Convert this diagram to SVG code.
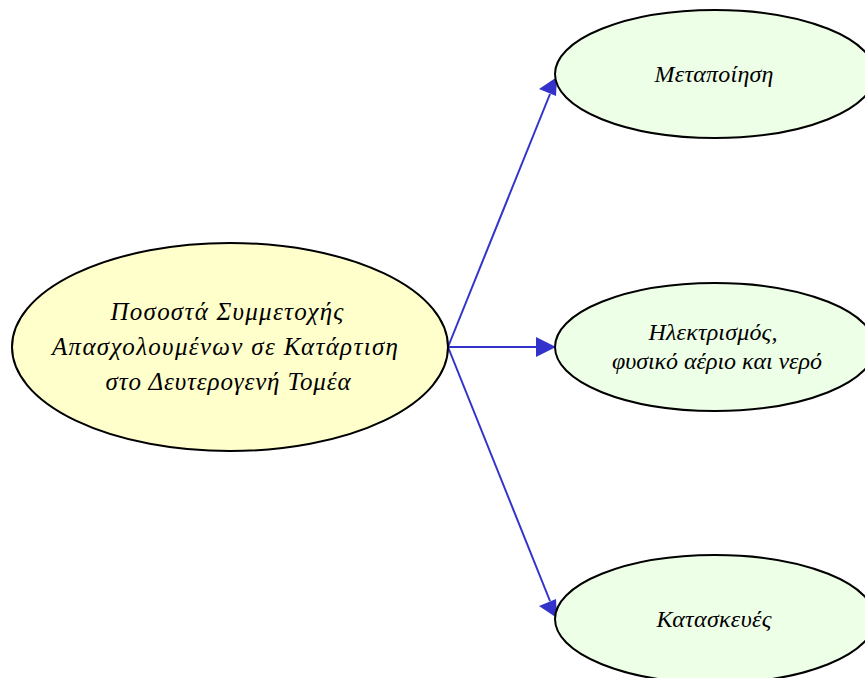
<svg xmlns="http://www.w3.org/2000/svg" width="865" height="678" viewBox="0 0 865 678">
<style>
.n{stroke:#000;stroke-width:2}
.root{fill:#ffffcc}
.leaf{fill:#eeffe8}
.t{font-family:"Liberation Serif","DejaVu Serif",serif;font-style:italic;font-size:24px;fill:#000;text-anchor:middle}
.r{font-size:25px}
.e{stroke:#3333cc;stroke-width:2;fill:none}
</style>
<rect width="865" height="678" fill="#fff"/>
<g id="edges">
<line class="e" x1="448" y1="347" x2="550" y2="94"/>
<polygon points="557,77 539,89 556,96" fill="#3333cc"/>
<line class="e" x1="448" y1="347" x2="538" y2="347"/>
<polygon points="556,347 536,337 536,357" fill="#3333cc"/>
<line class="e" x1="448" y1="347" x2="550" y2="601"/>
<polygon points="557,618 539,606 556,599" fill="#3333cc"/>
</g>
<g id="root">
<ellipse class="n root" cx="230" cy="347" rx="218" ry="104"/>
<text class="t r" x="227" y="320" textLength="233" lengthAdjust="spacing">Ποσοστά Συμμετοχής</text>
<text class="t r" x="225" y="355" textLength="346" lengthAdjust="spacing">Απασχολουμένων σε Κατάρτιση</text>
<text class="t r" x="228" y="390" textLength="245" lengthAdjust="spacing">στο Δευτερογενή Τομέα</text>
</g>
<g id="metapoiisi">
<ellipse class="n leaf" cx="715" cy="74" rx="160" ry="64"/>
<text class="t" x="714" y="82" textLength="119" lengthAdjust="spacing">Μεταποίηση</text>
</g>
<g id="ilektrismos">
<ellipse class="n leaf" cx="715" cy="347" rx="160" ry="64"/>
<text class="t" x="713" y="340" textLength="129" lengthAdjust="spacing">Ηλεκτρισμός,</text>
<text class="t" x="717" y="369" textLength="210" lengthAdjust="spacing">φυσικό αέριο και νερό</text>
</g>
<g id="kataskeves">
<ellipse class="n leaf" cx="715" cy="619" rx="160" ry="64"/>
<text class="t" x="714" y="627" textLength="115" lengthAdjust="spacing">Κατασκευές</text>
</g>
</svg>
